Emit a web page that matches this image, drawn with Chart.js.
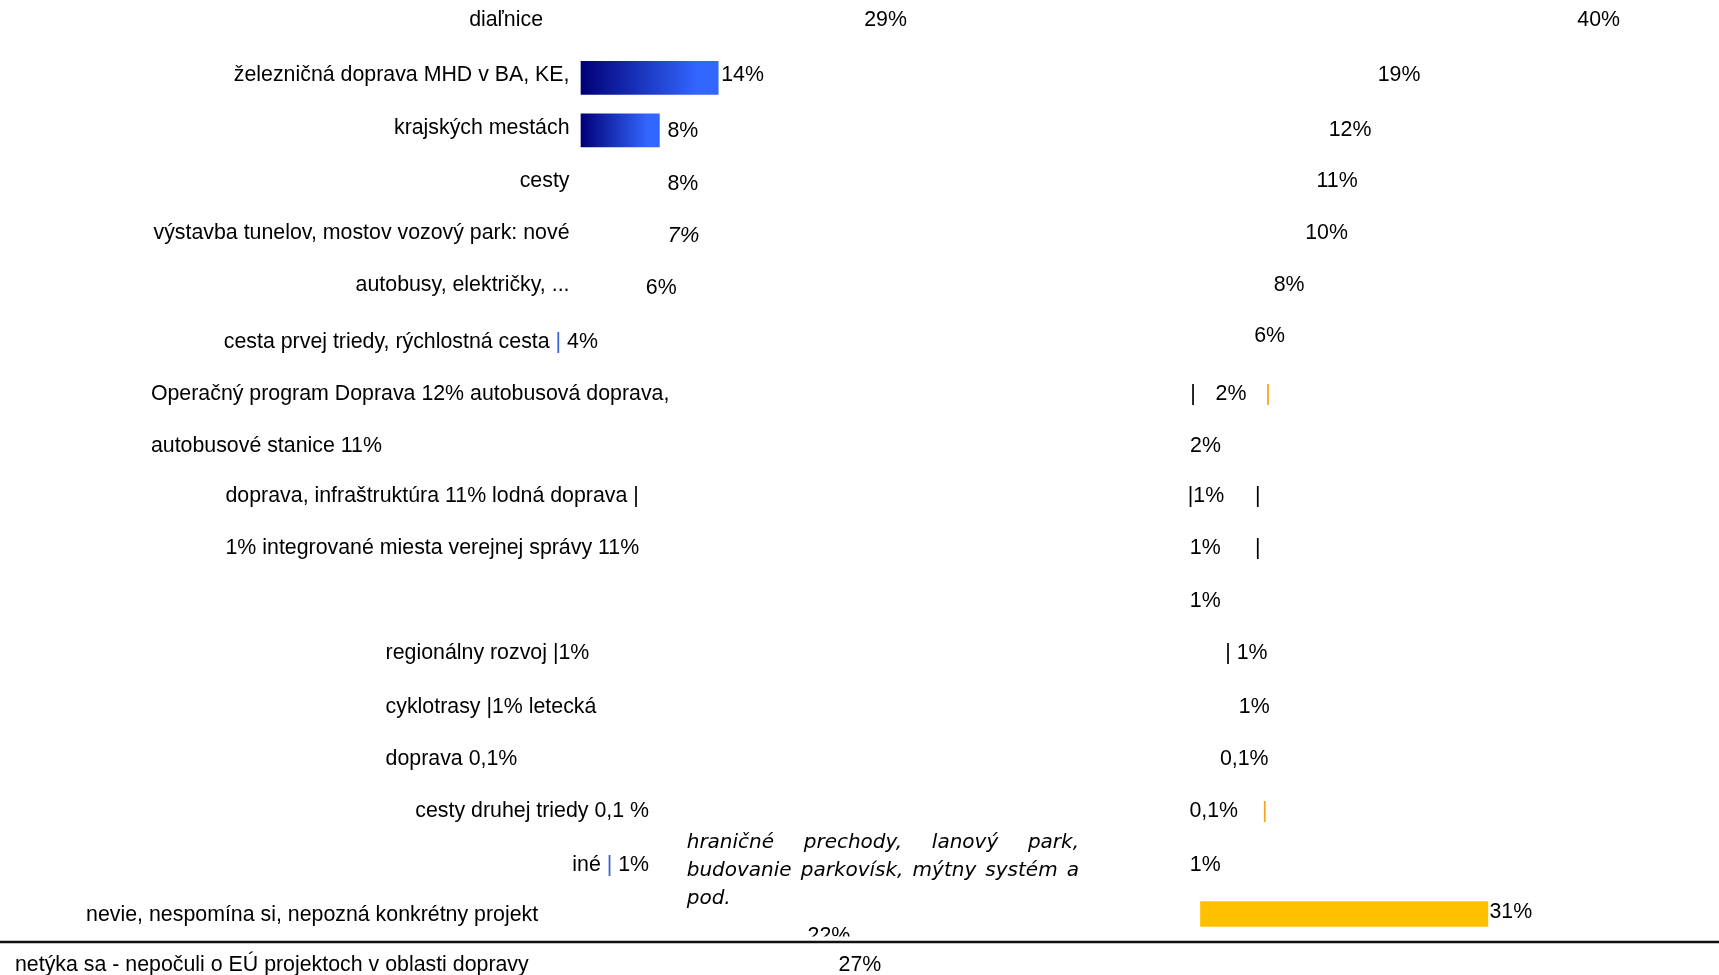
<!DOCTYPE html>
<html>
<head>
<meta charset="utf-8">
<script src="https://cdn.jsdelivr.net/npm/chart.js@4.4.1/dist/chart.umd.min.js"></script>
<style>
  html, body { margin: 0; padding: 0; background: #fff; }
  #wrap { position: relative; width: 1719px; height: 975px; }
</style>
</head>
<body>
<div id="wrap"><canvas id="chart"></canvas></div>
<script>
// rows top to bottom, text as it stands in the picture
const categories = [
  'diaľnice',
  'železničná doprava MHD v BA, KE,',
  'krajských mestách',
  'cesty',
  'výstavba tunelov, mostov vozový park: nové',
  'autobusy, električky, ...',
  'cesta prvej triedy, rýchlostná cesta | 4%',
  'Operačný program Doprava 12% autobusová doprava,',
  'autobusové stanice 11%',
  'doprava, infraštruktúra 11% lodná doprava |',
  '1% integrované miesta verejnej správy 11%',
  '',
  'regionálny rozvoj |1%',
  'cyklotrasy |1% letecká',
  'doprava 0,1%',
  'cesty druhej triedy 0,1 %',
  'iné | 1%',
  'nevie, nespomína si, nepozná konkrétny projekt',
  'netýka sa - nepočuli o EÚ projektoch v oblasti dopravy'
];

// left column values (null = value only appears inside the row text)
const leftValues = [29, 14, 8, 8, 7, 6, null, null, null, null, null, null, null, null, null, null, null, 22, 27];
// right column values
const rightValues = [40, 19, 12, 11, 10, 8, 6, 2, 2, 1, 1, 1, 1, 1, 0.1, 0.1, 1, 31, null];

const noteLines = ['hraničné prechody, lanový park,', 'budovanie parkovísk, mýtny systém a', 'pod.'];

// ---- styling / layout (not data) ----
const ink = '#000';
const blue = '#3a62d8';
const orange = '#f7a51c';
const FONT = '21.35px "Liberation Sans", Arial, sans-serif';
const FONT_IT = 'italic 22px "Liberation Sans", Arial, sans-serif';
const NOTE_FONT = 'oblique 20px "DejaVu Sans", sans-serif';
const TEXT_DY = 1;
// small per-row vertical nudges of the text
const rowDy = [-2, 0, 1, 1, 1, 0, 5, 4, 4, 1, 1, 1, 1, 2, 2, 1, 3, 0, -2];

const leftShown = [false, true, true, false, false, false, false, false, false, false, false, false, false, false, false, false, false, false, false];
const rightShown = [false, false, false, false, false, false, false, false, false, false, false, false, false, false, false, false, false, true, false];

const catLayout = [
  { x: 543, align: 'right' },
  { x: 569.5, align: 'right' },
  { x: 569.5, align: 'right' },
  { x: 569.5, align: 'right' },
  { x: 569.5, align: 'right' },
  { x: 569.5, align: 'right' },
  { x: 223.8, align: 'left' },
  { x: 150.9, align: 'left' },
  { x: 150.9, align: 'left' },
  { x: 225.5, align: 'left' },
  { x: 225.5, align: 'left' },
  null,
  { x: 385.6, align: 'left' },
  { x: 385.6, align: 'left' },
  { x: 385.6, align: 'left' },
  { x: 649, align: 'right' },
  { x: 649, align: 'right' },
  { x: 86.1, align: 'left' },
  { x: 15, align: 'left' }
];
const catPipe = { 6: blue, 16: blue };

const leftDx = [-1, 3, 8, 8, 18, 6, 0, 0, 0, 0, 0, 0, 0, 0, 0, 0, 0, 11, -7];
const leftDy = { 2: 3, 3: 3, 4: 2, 5: 3, 17: 21 };
const rightDx = [6, 1, 17, 14, 12, -1, -2, -3.5, -29, -22, -20, -20, 15.5, 29, 18.5, -12, -20, 1.5, 0];
const rightDy = { 2: 2, 6: -6, 17: -3 };
const rightPrefix = { 9: '|', 12: '| ' };
const rightPipes = [
  { row: 7, x: 1193, color: ink },
  { row: 7, x: 1268, color: orange },
  { row: 9, x: 1257.7, color: ink },
  { row: 10, x: 1257.7, color: ink },
  { row: 15, x: 1264.8, color: orange }
];

const fmt = v => String(v).replace('.', ',') + '%';

const leftData = [];
leftValues.forEach((v, i) => { if (v !== null) leftData.push({ x: v, y: i }); });
const rightData = [];
rightValues.forEach((v, i) => { if (v !== null) rightData.push({ x: v, y: i }); });

function leftFill(c) {
  const row = c.raw ? c.raw.y : -1;
  if (!leftShown[row]) return 'rgba(0,0,0,0)';
  const sx = c.chart.scales.xL;
  if (!sx) return '#1a2fb0';
  const x0 = sx.getPixelForValue(0), x1 = sx.getPixelForValue(c.raw.x);
  const g = c.chart.ctx.createLinearGradient(x0, 0, x1, 0);
  g.addColorStop(0, '#000077');
  g.addColorStop(0.85, '#3366ff');
  g.addColorStop(1, '#3366ff');
  return g;
}
function rightFill(c) {
  const row = c.raw ? c.raw.y : -1;
  return rightShown[row] ? '#FFC000' : 'rgba(0,0,0,0)';
}

function drawRich(c, text, x, yy, align, pipeColor, font) {
  c.font = font;
  c.textAlign = 'left';
  const w = c.measureText(text).width;
  let cx = align === 'right' ? x - w : x;
  if (!pipeColor) { c.fillStyle = ink; c.fillText(text, cx, yy); return; }
  text.split(/(\|)/).forEach(part => {
    if (!part) return;
    c.fillStyle = part === '|' ? pipeColor : ink;
    c.fillText(part, cx, yy);
    cx += c.measureText(part).width;
  });
}

const textPlugin = {
  id: 'texts',
  afterDatasetsDraw(chart) {
    const c = chart.ctx;
    const y = chart.scales.y, xL = chart.scales.xL, xR = chart.scales.xR;
    const rowY = i => y.getPixelForValue(i) + TEXT_DY + rowDy[i];
    c.save();
    c.textBaseline = 'middle';

    // row labels
    categories.forEach((t, i) => {
      const l = catLayout[i];
      if (!t || !l) return;
      drawRich(c, t, l.x, rowY(i), l.align, catPipe[i], FONT);
    });

    // left values
    leftValues.forEach((v, i) => {
      if (v === null) return;
      const px = xL.getPixelForValue(v) + leftDx[i];
      const py = rowY(i) + (leftDy[i] || 0);
      c.save();
      if (i === 17) { c.beginPath(); c.rect(0, 0, chart.width, 936.5); c.clip(); }
      drawRich(c, fmt(v), px, py, 'left', null, i === 4 ? FONT_IT : FONT);
      c.restore();
    });

    // right values
    rightValues.forEach((v, i) => {
      if (v === null) return;
      const px = xR.getPixelForValue(v) + rightDx[i];
      drawRich(c, (rightPrefix[i] || '') + fmt(v), px, rowY(i) + (rightDy[i] || 0), 'left', null, FONT);
    });
    c.font = FONT;
    c.textAlign = 'center';
    rightPipes.forEach(p => {
      c.fillStyle = p.color;
      c.fillText('|', p.x, rowY(p.row));
    });

    // justified note
    c.font = NOTE_FONT;
    c.fillStyle = ink;
    c.textAlign = 'left';
    const nx0 = 686.7, nx1 = 1079, lineY = [843, 871, 899];
    noteLines.forEach((line, k) => {
      const words = line.split(' ');
      if (k === noteLines.length - 1 || words.length < 2) { c.fillText(line, nx0, lineY[k]); return; }
      const ww = words.map(w => c.measureText(w).width);
      const gap = (nx1 - nx0 - ww.reduce((a, b) => a + b, 0)) / (words.length - 1);
      let cx = nx0;
      words.forEach((w, j) => { c.fillText(w, cx, lineY[k]); cx += ww[j] + gap; });
    });

    // separator rule
    c.strokeStyle = '#111';
    c.lineWidth = 2.7;
    c.beginPath();
    c.moveTo(0, 942);
    c.lineTo(chart.width, 942);
    c.stroke();
    c.restore();
  }
};

// hidden axes with fixed ranges; keep them exactly as given
function fixed(axis, min, max, reverse) {
  return {
    type: 'linear', axis, display: false, reverse: !!reverse, offset: false, bounds: 'data',
    min, max,
    afterBuildTicks: s => { s.min = min; s.max = max; }
  };
}

new Chart(document.getElementById('chart'), {
  type: 'bar',
  data: {
    datasets: [{
      label: 'left',
      data: leftData,
      xAxisID: 'xL',
      yAxisID: 'yL',
      backgroundColor: leftFill,
      borderWidth: 0,
      grouped: false,
      barThickness: 33
    }, {
      label: 'right',
      data: rightData,
      xAxisID: 'xR',
      yAxisID: 'y',
      backgroundColor: rightFill,
      borderWidth: 0,
      grouped: false,
      barThickness: 25
    }]
  },
  options: {
    indexAxis: 'y',
    responsive: true,
    maintainAspectRatio: false,
    animation: false,
    layout: { padding: 0 },
    plugins: { legend: { display: false }, tooltip: { enabled: false } },
    scales: {
      xL: fixed('x', -59.286, 116.122),
      xR: fixed('x', -129.50, 55.93),
      y: fixed('y', -0.40952, 18.1619, true),
      yL: fixed('y', -0.48190, 18.0890, true)
    }
  },
  plugins: [textPlugin]
});
</script>
</body>
</html>
